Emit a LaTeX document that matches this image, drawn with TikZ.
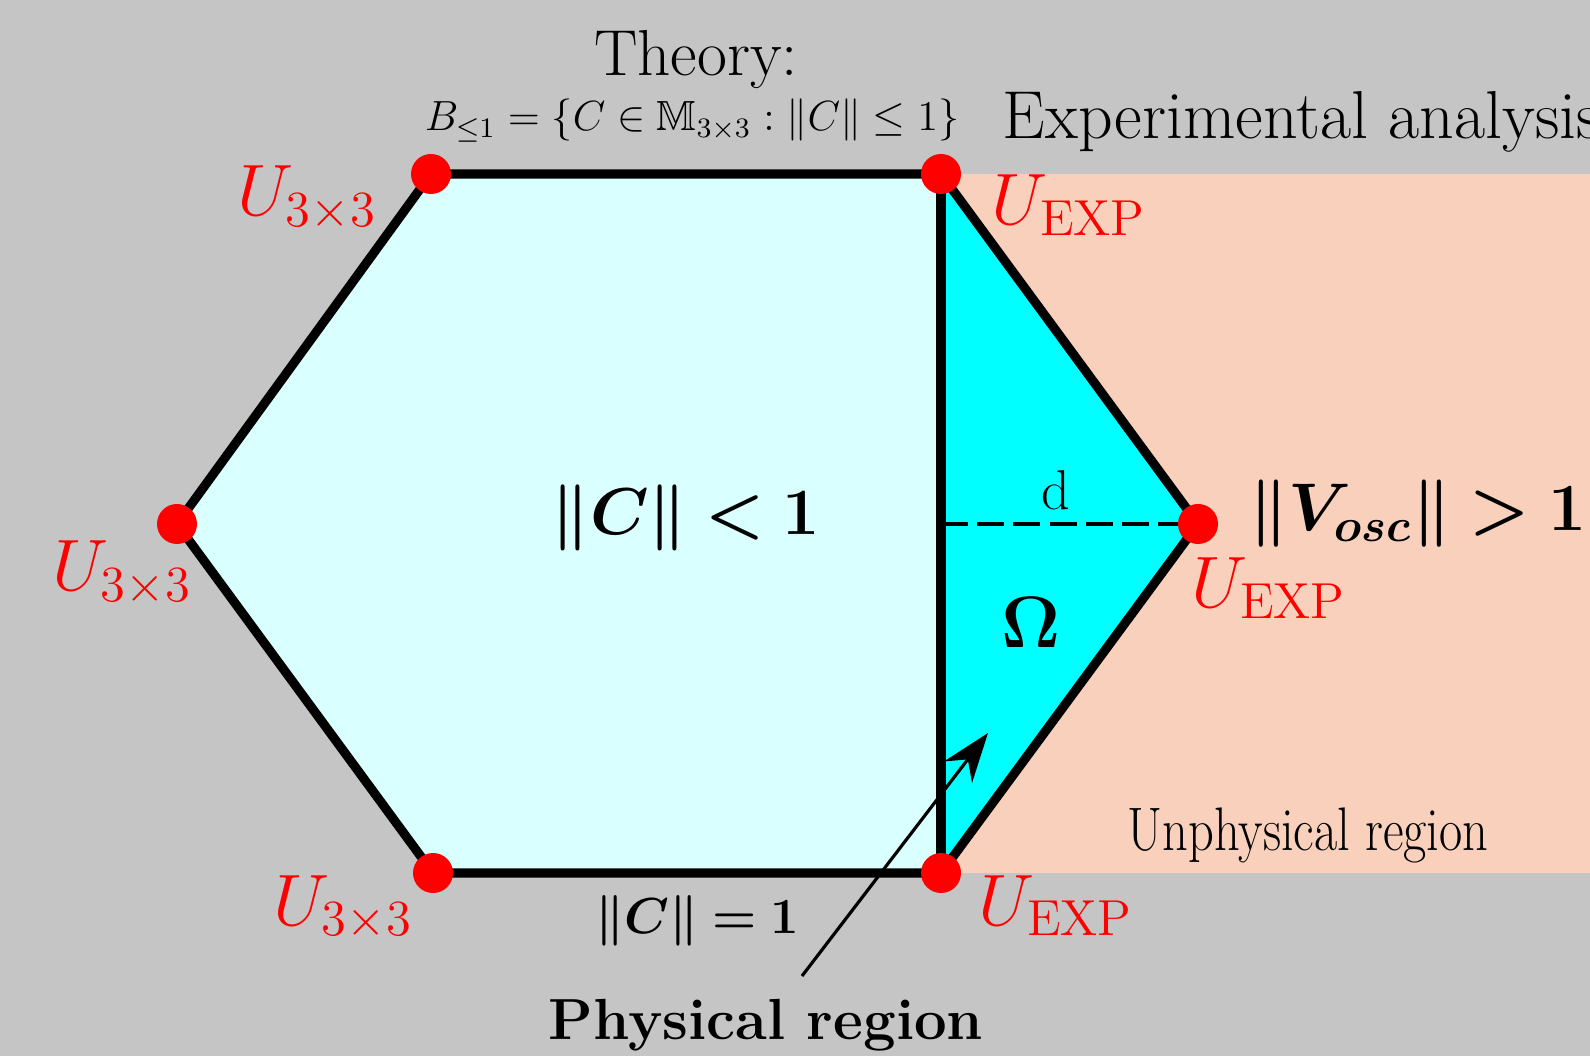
\documentclass[tikz,border=0pt]{standalone}
\usepackage{amssymb}
\usepackage{bm}
\usetikzlibrary{arrows.meta}
\definecolor{bggray}{RGB}{196,197,196}
\definecolor{peach}{RGB}{249,208,187}
\definecolor{lightcyan}{RGB}{217,255,255}
\definecolor{omegacyan}{RGB}{0,255,255}
\newcommand{\normin}{$\bm{\|C\|<1}$}
\newcommand{\normon}{$\bm{\|C\|=1}$}
\newcommand{\normout}{$\bm{\|V_{osc}\|>1}$}
\begin{document}
\begin{tikzpicture}[
    edge/.style={line width=2.6pt,line join=round},
    vtx/.style={circle,fill=red,inner sep=0pt,minimum size=0.4cm},
    ulab/.style={text=red,font=\fontsize{20.74}{24}\selectfont,anchor=base,inner sep=0pt},
    txt/.style={anchor=base,inner sep=0pt},
    arr/.style={-{Stealth[length=14pt,width=10pt]},line width=0.9pt}
]
\useasboundingbox (0,0) rectangle (15.9,10.56);
\fill[bggray] (0,0) rectangle (15.9,10.56);
% corners of the ball
\coordinate (tl) at (4.31,8.82);
\coordinate (tr) at (9.41,8.82);
\coordinate (r) at (11.98,5.32);
\coordinate (br) at (9.41,1.83);
\coordinate (bl) at (4.33,1.83);
\coordinate (l) at (1.77,5.32);
\coordinate (mid) at (9.41,5.32);
% regions
\fill[peach] (tr) rectangle (15.9,1.83);
\fill[lightcyan] (tl) -- (tr) -- (br) -- (bl) -- (l) -- cycle;
\fill[omegacyan] (tr) -- (r) -- (br) -- cycle;
\draw[edge] (tl) -- (tr) -- (r) -- (br) -- (bl) -- (l) -- cycle;
\draw[edge] (tr) -- (br);
\draw[line width=1.4pt,dash pattern=on 7.7pt off 2.6pt] (mid) -- (r);
% arrow to Omega
\coordinate (tail) at (8.02,0.80);
\coordinate (tip) at (9.88,3.23);
\draw[arr] (tail) -- (tip);
% vertices
\foreach \v in {tl,tr,r,br,bl,l}
    \node[vtx] (dot-\v) at (\v) {};
% labels
\node[ulab] (u1) at (3.07,8.40) {$U_{3\times 3}$};
\node[ulab] (u2) at (1.22,4.65) {$U_{3\times 3}$};
\node[ulab] (u3) at (3.43,1.31) {$U_{3\times 3}$};
\node[ulab] (e1) at (10.69,8.31) {$U_{\mathrm{EXP}}$};
\node[ulab] (e2) at (12.69,4.48) {$U_{\mathrm{EXP}}$};
\node[ulab] (e3) at (10.56,1.31) {$U_{\mathrm{EXP}}$};
\node[txt,font=\fontsize{18.5}{20}\selectfont] (theory) at (6.96,9.80) {Theory:};
\node[txt,font=\fontsize{12}{14}\selectfont] (ball) at (6.92,9.25) {$B_{\leq 1}=\{C\in\mathbb{M}_{3\times 3}:\|C\|\leq 1\}$};
\node[txt,anchor=base west,font=\fontsize{19.3}{22}\selectfont] (exp) at (10.02,9.17) {Experimental analysis};
\node[txt,scale=1.09,font=\fontsize{17.28}{20}\selectfont] (normlab) at (6.86,5.21) {\normin};
\node[txt,font=\fontsize{14.4}{17}\selectfont] (edgelab) at (6.97,1.23) {\normon};
\node[font=\fontsize{20.74}{24}\selectfont,inner sep=0pt] (omega) at (10.31,4.34) {$\bm{\Omega}$};
\node[txt,font=\fontsize{16}{18}\selectfont] (dist) at (10.56,5.46) {d};
\node[txt,scale=1.11,font=\fontsize{17.28}{20}\selectfont] (vosc) at (14.18,5.25) {\normout};
\node[txt,font=\fontsize{16.5}{19}\selectfont] (phys) at (7.66,0.17) {\textbf{Physical region}};
\node[txt,xscale=0.82,font=\fontsize{17.5}{20}\selectfont] (unphys) at (13.08,2.06) {Unphysical region};
\end{tikzpicture}
\end{document}
